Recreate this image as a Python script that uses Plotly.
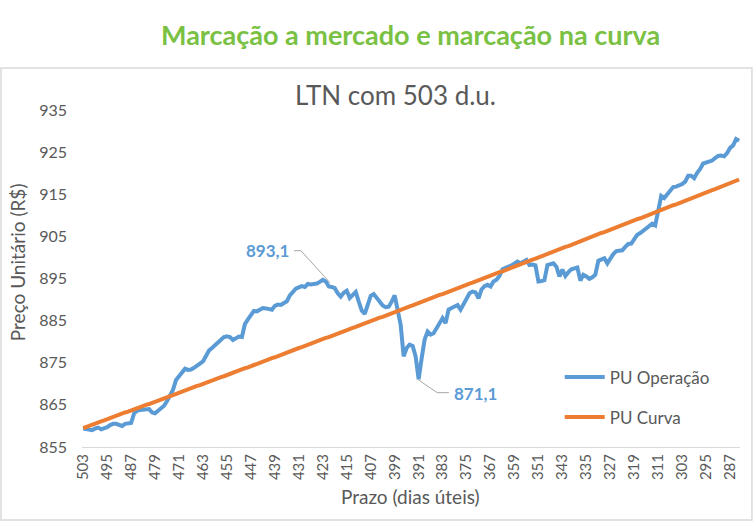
import plotly.graph_objects as go

# Prazo (dias úteis) from 503 down to 284
prazo = list(range(503, 283, -1))

pu_operacao = [
    859.4, 859.3, 859.1, 859.0, 859.4, 859.6, 859.2, 859.4, 859.7, 860.2,
    860.5, 860.5, 860.3, 860.0, 860.5, 860.6, 860.7, 863.0, 863.6, 863.8,
    863.8, 863.9, 864.0, 863.2, 863.0, 863.6, 864.2, 864.8, 865.9, 867.2,
    868.6, 870.9, 871.8, 872.6, 873.6, 873.3, 873.4, 873.8, 874.4, 874.8,
    875.3, 876.6, 877.9, 878.5, 879.2, 880.0, 880.6, 881.1, 881.3, 881.1,
    880.4, 880.9, 881.2, 881.1, 884.2, 885.3, 886.5, 887.3, 887.2, 887.5,
    888.0, 887.9, 887.7, 887.6, 888.5, 888.8, 888.7, 889.1, 889.6, 891.0,
    892.0, 892.6, 892.9, 893.2, 893.0, 893.7, 893.6, 893.7, 893.8, 894.2,
    894.7, 894.3, 893.1, 893.0, 892.7, 891.5, 890.7, 891.6, 892.1, 890.4,
    891.0, 891.8, 889.5, 887.4, 886.6, 888.9, 890.9, 891.3, 890.3, 889.6,
    888.6, 888.2, 888.3, 889.5, 891.0, 887.5, 884.0, 876.5, 878.5, 879.3,
    879.0, 876.5, 871.1, 876.0, 880.5, 882.4, 881.7, 882.0, 883.2, 884.3,
    885.6, 884.4, 887.6, 888.0, 888.4, 888.7, 887.6, 889.0, 890.4, 891.5,
    891.9, 891.7, 890.3, 892.4, 893.2, 893.5, 893.1, 894.3, 894.7, 895.6,
    897.2, 897.4, 897.8, 898.1, 898.6, 899.0, 898.6, 899.0, 899.4, 898.2,
    898.3, 898.1, 894.3, 894.4, 894.6, 898.2, 898.3, 898.6, 897.8, 895.5,
    897.1, 895.6, 896.5, 897.2, 897.4, 897.6, 894.5, 895.9, 895.5, 894.9,
    895.3, 895.9, 899.2, 899.6, 899.8, 898.6, 899.8, 900.8, 901.5, 901.7,
    901.7, 902.5, 903.2, 903.3, 904.3, 905.4, 905.8, 906.4, 907.0, 907.6,
    908.0, 907.6, 911.5, 914.6, 914.1, 914.9, 915.6, 916.7, 916.8, 917.0,
    917.4, 918.0, 919.4, 919.4, 918.8, 920.1, 921.0, 922.3, 922.6, 922.8,
    923.0, 923.6, 924.1, 924.2, 924.0, 924.8, 926.0, 926.6, 928.1, 927.7,
]

pu_curva = [
    859.5, 859.8, 860.0, 860.3, 860.5, 860.8, 861.1, 861.3, 861.6, 861.8,
    862.1, 862.4, 862.6, 862.9, 863.2, 863.4, 863.7, 863.9, 864.2, 864.5,
    864.7, 865.0, 865.2, 865.5, 865.8, 866.0, 866.3, 866.6, 866.8, 867.1,
    867.3, 867.6, 867.9, 868.1, 868.4, 868.7, 868.9, 869.2, 869.5, 869.7,
    870.0, 870.2, 870.5, 870.8, 871.0, 871.3, 871.6, 871.8, 872.1, 872.4,
    872.6, 872.9, 873.1, 873.4, 873.7, 873.9, 874.2, 874.5, 874.7, 875.0,
    875.3, 875.5, 875.8, 876.1, 876.3, 876.6, 876.9, 877.1, 877.4, 877.7,
    877.9, 878.2, 878.5, 878.7, 879.0, 879.3, 879.5, 879.8, 880.1, 880.3,
    880.6, 880.9, 881.1, 881.4, 881.7, 881.9, 882.2, 882.5, 882.7, 883.0,
    883.3, 883.5, 883.8, 884.1, 884.3, 884.6, 884.9, 885.1, 885.4, 885.7,
    885.9, 886.2, 886.5, 886.7, 887.0, 887.3, 887.6, 887.8, 888.1, 888.4,
    888.6, 888.9, 889.2, 889.4, 889.7, 890.0, 890.3, 890.5, 890.8, 891.1,
    891.3, 891.6, 891.9, 892.1, 892.4, 892.7, 892.9, 893.2, 893.5, 893.8,
    894.0, 894.3, 894.6, 894.8, 895.1, 895.4, 895.7, 895.9, 896.2, 896.5,
    896.7, 897.0, 897.3, 897.6, 897.8, 898.1, 898.4, 898.7, 898.9, 899.2,
    899.5, 899.7, 900.0, 900.3, 900.6, 900.8, 901.1, 901.4, 901.6, 901.9,
    902.2, 902.5, 902.7, 903.0, 903.3, 903.6, 903.8, 904.1, 904.4, 904.7,
    904.9, 905.2, 905.5, 905.8, 906.0, 906.3, 906.6, 906.9, 907.1, 907.4,
    907.7, 908.0, 908.2, 908.5, 908.8, 909.1, 909.3, 909.6, 909.9, 910.2,
    910.4, 910.7, 911.0, 911.3, 911.5, 911.8, 912.1, 912.4, 912.6, 912.9,
    913.2, 913.5, 913.8, 914.0, 914.3, 914.6, 914.9, 915.1, 915.4, 915.7,
    916.0, 916.2, 916.5, 916.8, 917.1, 917.4, 917.6, 917.9, 918.2, 918.5,
]

x_ticks = list(range(503, 283, -8))
y_ticks = [855, 865, 875, 885, 895, 905, 915, 925, 935]

# labelled points
label_max_val = 893.1
label_min_val = 871.1

FONT = "Lato"
GRAY = "#595959"
BLUE = "#5B9BD5"
ORANGE = "#ED7D31"

fig = go.Figure()
fig.add_trace(go.Scatter(x=prazo, y=pu_operacao, mode="lines", name="PU Operação",
                         legendgroup="a", line=dict(color=BLUE, width=4)))
fig.add_trace(go.Scatter(x=prazo, y=pu_curva, mode="lines", name="PU Curva",
                         legendgroup="b", line=dict(color=ORANGE, width=4)))

# leader lines (data coords)
fig.add_shape(type="path", xref="x", yref="y",
              path="M 432.6 901.6 L 430.3 901.6 L 420.6 894.0",
              line=dict(color="#A6A6A6", width=1))
fig.add_shape(type="path", xref="x", yref="y",
              path="M 391.2 871.0 L 384.8 867.9 L 380.9 867.9",
              line=dict(color="#A6A6A6", width=1))

fig.add_annotation(x=441.5, y=901.6, xref="x", yref="y",
                   text=f"<b>{label_max_val:.1f}</b>".replace(".", ","),
                   showarrow=False, font=dict(family=FONT, size=17, color=BLUE))
fig.add_annotation(x=372.0, y=867.6, xref="x", yref="y",
                   text=f"<b>{label_min_val:.1f}</b>".replace(".", ","),
                   showarrow=False, font=dict(family=FONT, size=17, color=BLUE))

# titles
fig.add_annotation(x=0.4985, y=1.2226, xref="paper", yref="paper",
                   text="<b>Marcação a mercado e marcação na curva</b>", showarrow=False,
                   font=dict(family=FONT, size=27, color="#7AC143"), yanchor="middle")
fig.add_annotation(x=0.4757, y=1.0445, xref="paper", yref="paper",
                   text="LTN com 503 d.u.", showarrow=False,
                   font=dict(family=FONT, size=26, color=GRAY), yanchor="middle")
fig.add_annotation(x=-0.097, y=0.549, xref="paper", yref="paper",
                   text="Preço Unitário (R$)", showarrow=False, textangle=-90,
                   xanchor="center", yanchor="middle",
                   font=dict(family=FONT, size=19, color=GRAY))
fig.add_annotation(x=0.4985, y=-0.148, xref="paper", yref="paper",
                   text="Prazo (dias úteis)", showarrow=False,
                   font=dict(family=FONT, size=19, color=GRAY), yanchor="middle")

# chart border
fig.add_shape(type="rect", xref="paper", yref="paper",
              x0=-0.1231, x1=1.0182, y0=-0.2166, y1=1.1246,
              line=dict(color="#D9D9D9", width=1.5), layer="below")

fig.update_layout(
    width=756, height=524,
    margin=dict(l=82, r=16, t=110, b=77),
    paper_bgcolor="white", plot_bgcolor="white",
    font=dict(family=FONT, color=GRAY),
    showlegend=True,
    legend=dict(x=0.726, y=0.26, xanchor="left", yanchor="top",
                font=dict(family=FONT, size=17, color=GRAY),
                tracegroupgap=15, bgcolor="rgba(0,0,0,0)", itemwidth=40),
)
fig.update_xaxes(range=[503.4, 283.7], tickvals=x_ticks, ticktext=[str(v) for v in x_ticks],
                 tickangle=-90, tickfont=dict(size=15, color=GRAY, family=FONT),
                 showgrid=False, zeroline=False, showline=True, linecolor="#D9D9D9",
                 linewidth=1, ticks="")
fig.update_yaxes(range=[855, 935], tickvals=y_ticks, tickfont=dict(size=16, color=GRAY, family=FONT),
                 showgrid=False, zeroline=False, showline=False, ticks="",
                 ticklabelstandoff=14)

fig.write_html("out.html", config={"displayModeBar": False},
               post_script="document.body.style.margin='0';")
